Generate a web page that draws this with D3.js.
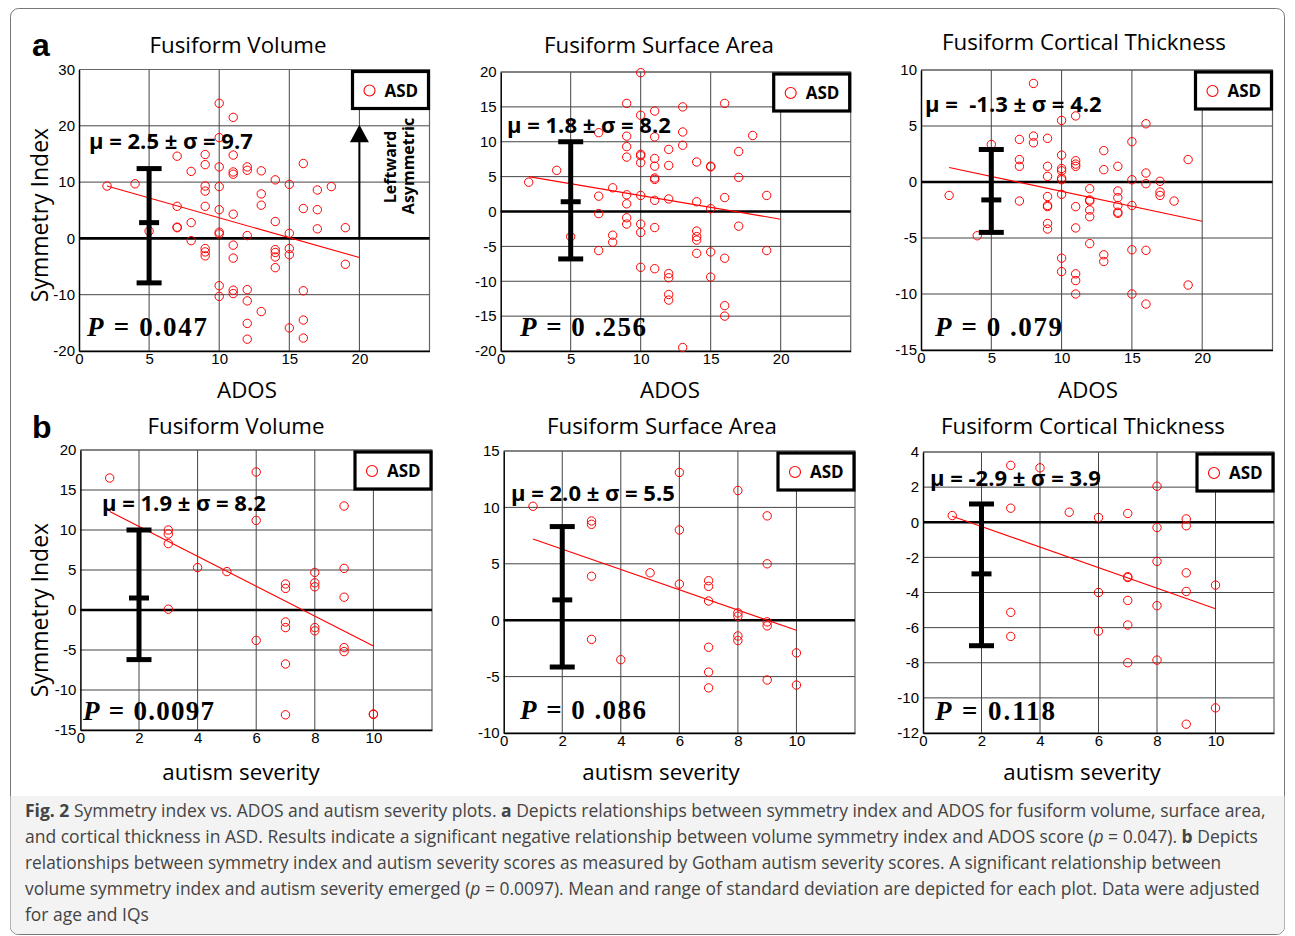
<!DOCTYPE html>
<html><head><meta charset="utf-8">
<script src="https://cdn.jsdelivr.net/npm/d3@7"></script>
<style>body{margin:0;background:#fff}svg{display:block}</style>
</head><body><svg id="c" width="1295" height="936"></svg>
<script>
// ---------- DATA ----------
const volAdosPts = [[2,9.3],[4,9.7],[5,1.3],[7,14.6],[7,5.7],[7,2.0],[7,1.9],[8,11.9],[8,2.8],[8,-0.4],
 [9,14.9],[9,13.1],[9,9.3],[9,8.4],[9,5.7],[9,-1.8],[9,-2.4],[9,-3.1],
 [10,24],[10,17.9],[10,12.7],[10,9.2],[10,5.1],[10,1.1],[10,0.8],[10,-8.4],[10,-10.3],
 [11,21.5],[11,14.8],[11,11.8],[11,11.4],[11,4.3],[11,-1.2],[11,-3.5],[11,-9.2],[11,-9.8],
 [12,12.7],[12,12.1],[12,0.5],[12,-9.1],[12,-11.1],[12,-15.1],[12,-17.9],
 [13,12.0],[13,7.9],[13,5.9],[13,-13],
 [14,10.4],[14,3.0],[14,-2.0],[14,-2.5],[14,-3.3],[14,-5.2],
 [15,9.6],[15,0.9],[15,-1.8],[15,-2.9],[15,-15.9],
 [16,13.3],[16,5.3],[16,-9.3],[16,-14.5],[16,-17.7],
 [17,8.6],[17,5.1],[17,1.7],[18,9.2],[19,1.9],[19,-4.6]];
const areaAdosPts = [[2,4.2],[4,5.9],[5,-3.6],[7,11.3],[7,2.2],[7,-0.3],[7,-5.6],[8,3.4],[8,-3.4],[8,-4.4],
 [9,15.5],[9,10.8],[9,9.3],[9,7.8],[9,2.4],[9,1.1],[9,-0.9],[9,-1.8],
 [10,19.9],[10,13.8],[10,8.2],[10,8.0],[10,7.0],[10,2.3],[10,-1.8],[10,-3.0],[10,-8.0],
 [11,14.4],[11,10.7],[11,7.6],[11,6.5],[11,4.8],[11,4.6],[11,1.6],[11,-2.3],[11,-8.2],
 [12,8.9],[12,6.6],[12,1.8],[12,-8.9],[12,-9.5],[12,-11.9],[12,-12.7],
 [13,15.0],[13,11.4],[13,9.5],[13,-19.5],
 [14,7.1],[14,1.4],[14,-2.8],[14,-3.6],[14,-4.1],[14,-6.0],
 [15,6.5],[15,6.4],[15,0.4],[15,-5.8],[15,-9.4],
 [16,15.5],[16,2.0],[16,-6.7],[16,-13.5],[16,-15.0],
 [17,8.6],[17,4.9],[17,-2.1],[18,10.9],[19,2.3],[19,-5.6]];
const thickAdosPts = [[2,-1.2],[4,-4.8],[5,3.35],[7,3.8],[7,2.0],[7,1.4],[7,-1.7],[8,8.8],[8,4.1],[8,3.5],
 [9,3.9],[9,1.4],[9,0.5],[9,-1.3],[9,-2.1],[9,-2.2],[9,-3.7],[9,-4.2],
 [10,5.5],[10,2.4],[10,1.2],[10,1.0],[10,0.35],[10,0.2],[10,-1.1],[10,-6.8],[10,-8.0],
 [11,5.9],[11,1.9],[11,1.6],[11,1.4],[11,-2.2],[11,-4.1],[11,-8.2],[11,-8.8],[11,-10],
 [12,-0.6],[12,-1.6],[12,-1.7],[12,-2.5],[12,-3.1],[12,-5.5],
 [13,2.8],[13,1.1],[13,-6.5],[13,-7.1],
 [14,1.4],[14,-0.8],[14,-1.4],[14,-2.1],[14,-2.7],[14,-2.8],
 [15,3.6],[15,0.2],[15,-2.1],[15,-6.05],[15,-10],
 [16,5.2],[16,0.8],[16,-0.15],[16,-6.1],[16,-10.9],
 [17,0.06],[17,-0.9],[17,-1.2],[18,-1.7],[19,2.0],[19,-9.2]];
const volSevPts = [[1,16.5],[3,10.0],[3,9.5],[3,8.3],[3,0.1],[4,5.3],[5,4.8],[6,17.25],[6,11.2],[6,-3.8],
 [7,3.25],[7,2.7],[7,-1.5],[7,-2.2],[7,-6.75],[7,-13.1],
 [8,4.7],[8,3.4],[8,2.9],[8,-2.2],[8,-2.6],
 [9,13.0],[9,5.2],[9,1.6],[9,-4.7],[9,-5.2],[10,-13.0],[10,-13.05]];
const areaSevPts = [[1,10.1],[3,8.8],[3,8.5],[3,3.9],[3,-1.7],[4,-3.5],[5,4.2],[6,13.1],[6,8.0],[6,3.2],
 [7,3.5],[7,3.0],[7,1.7],[7,-2.4],[7,-4.6],[7,-6.0],
 [8,11.5],[8,0.65],[8,0.35],[8,-1.4],[8,-1.8],
 [9,9.25],[9,5.0],[9,-0.15],[9,-0.5],[9,-5.3],[10,-2.9],[10,-5.75]];
const thickSevPts = [[1,0.38],[3,3.24],[3,0.8],[3,-5.13],[3,-6.5],[4,3.1],[5,0.57],[6,0.27],[6,-4.0],[6,-6.2],
 [7,0.5],[7,-3.1],[7,-3.15],[7,-4.45],[7,-5.85],[7,-8.0],
 [8,2.05],[8,-0.3],[8,-2.23],[8,-4.75],[8,-7.85],
 [9,0.19],[9,-0.2],[9,-2.88],[9,-3.94],[9,-11.5],[10,-3.58],[10,-10.57]];

// regression line end points [[x1,y1],[x2,y2]]
const fitLines = [
  [[2,9.3],[20,-3.4]],
  [[2,5.0],[20,-1.1]],
  [[2,1.3],[20,-3.5]],
  [[1,12.3],[10,-4.5]],
  [[1,7.2],[10,-0.9]],
  [[1,0.34],[10,-4.92]]
];
// error bars: [x, low, centre, high]
const errBars = [[5,-7.9,2.8,12.4],[5,-6.8,1.4,10.0],[5,-4.5,-1.6,2.9],
                 [2,-6.2,1.5,10.0],[2,-4.15,1.8,8.3],[2,-7.03,-2.94,1.04]];
const titles = ["Fusiform Volume","Fusiform Surface Area","Fusiform Cortical Thickness",
                "Fusiform Volume","Fusiform Surface Area","Fusiform Cortical Thickness"];
const statTexts = ["\u03bc = 2.5 \u00b1 \u03c3 = 9.7","\u03bc = 1.8 \u00b1 \u03c3 = 8.2","\u03bc =  -1.3 \u00b1 \u03c3 = 4.2",
                   "\u03bc = 1.9 \u00b1 \u03c3 = 8.2","\u03bc = 2.0 \u00b1 \u03c3 = 5.5","\u03bc = -2.9 \u00b1 \u03c3 = 3.9"];
const pValues = ["0.047","0 .256","0 .079","0.0097","0 .086","0.118"];
const xLabels = ["ADOS","ADOS","ADOS","autism severity","autism severity","autism severity"];
const xTicksAdos = [0,5,10,15,20];
const xTicksSev = [0,2,4,6,8,10];
const yTicksSets = [[-20,-10,0,10,20,30],[-20,-15,-10,-5,0,5,10,15,20],[-15,-10,-5,0,5,10],
                    [-15,-10,-5,0,5,10,15,20],[-10,-5,0,5,10,15],[-12,-10,-8,-6,-4,-2,0,2,4]];
const legendLabel = "ASD";

// ---------- LAYOUT ----------
const layout = [
 {pts:volAdosPts,  l:79,  r:429.5, t:69.5, b:351, xd:[0,25], yd:[-20,30], xt:xTicksAdos, tx:238, ty:53, lx:247, ly:398, sx:89, sy:149, px:87, py:336, pw:120},
 {pts:areaAdosPts, l:500.7,r:850.7,t:72,  b:351, xd:[0,25], yd:[-20,20], xt:xTicksAdos, tx:659, ty:53, lx:670, ly:398, sx:507, sy:133, px:520, py:336, pw:126},
 {pts:thickAdosPts,l:921, r:1272.5,t:70,  b:350, xd:[0,25], yd:[-15,10], xt:xTicksAdos, tx:1084,ty:50, lx:1088,ly:398, sx:925, sy:112, px:935, py:336, pw:127},
 {pts:volSevPts,   l:80.4,r:432,  t:450, b:730, xd:[0,12], yd:[-15,20], xt:xTicksSev, tx:236, ty:434, lx:241, ly:780, sx:102, sy:511, px:83,  py:720, pw:131},
 {pts:areaSevPts,  l:503.7,r:855, t:451, b:733, xd:[0,12], yd:[-10,15], xt:xTicksSev, tx:662, ty:434, lx:661, ly:780, sx:511, sy:501, px:520, py:719, pw:126},
 {pts:thickSevPts, l:923, r:1274, t:452, b:733, xd:[0,12], yd:[-12,4],  xt:xTicksSev, tx:1083,ty:434, lx:1082,ly:780, sx:930, sy:486, px:935, py:720, pw:120}
];

const svg = d3.select("#c");
// figure frame + caption background
svg.append("rect").attr("x",10.5).attr("y",8.5).attr("width",1274).attr("height",926).attr("rx",8)
  .attr("fill","#fff").attr("stroke","#777").attr("stroke-width",1);
svg.append("path").attr("d","M10.5,796 H1284.5 V926 a8,8 0 0 1 -8,8 H18.5 a8,8 0 0 1 -8,-8 Z")
  .attr("fill","#f3f3f3").attr("stroke","none");

const tickFont = "'Liberation Sans', Arial, sans-serif";
const labFont = "'Open Sans', sans-serif";

layout.forEach((c,i)=>{
  const x = d3.scaleLinear().domain(c.xd).range([c.l,c.r]);
  const y = d3.scaleLinear().domain(c.yd).range([c.b,c.t]);
  const g = svg.append("g");
  // grid
  g.append("g").selectAll("line").data(c.xt.filter(d=>d!==c.xd[0])).join("line")
    .attr("x1",d=>x(d)).attr("x2",d=>x(d)).attr("y1",c.t).attr("y2",c.b)
    .attr("stroke","#444").attr("stroke-width",1);
  g.append("g").selectAll("line").data(yTicksSets[i]).join("line")
    .attr("x1",c.l).attr("x2",c.r).attr("y1",d=>y(d)).attr("y2",d=>y(d))
    .attr("stroke","#444").attr("stroke-width",1);
  // box (top/right)
  g.append("path").attr("d",`M${c.l},${c.t}H${c.r}V${c.b}`).attr("fill","none").attr("stroke","#666").attr("stroke-width",1.2);
  // axes
  const ax = g.append("g").attr("transform",`translate(0,${c.b})`)
    .call(d3.axisBottom(x).tickValues(c.xt).tickSize(0).tickPadding(5).tickFormat(d3.format("d")));
  const ay = g.append("g").attr("transform",`translate(${c.l},0)`)
    .call(d3.axisLeft(y).tickValues(yTicksSets[i]).tickSize(0).tickPadding(4).tickFormat(d=>String(d)));
  [ax,ay].forEach(a=>{
    a.select(".domain").attr("stroke","#000").attr("stroke-width",1.5);
    a.selectAll("text").attr("font-family",tickFont).attr("font-size",15).attr("fill","#000");
  });
  ax.selectAll("text").attr("dy","0.5em");
  // zero line
  g.append("line").attr("x1",c.l).attr("x2",c.r).attr("y1",y(0)).attr("y2",y(0))
    .attr("stroke","#000").attr("stroke-width",2.6);
  // regression line
  g.append("path").datum(fitLines[i]).attr("d",d3.line().x(d=>x(d[0])).y(d=>y(d[1])))
    .attr("stroke","#ff0000").attr("stroke-width",1.1).attr("fill","none");
  // points
  g.append("g").selectAll("circle").data(c.pts).join("circle")
    .attr("cx",d=>x(d[0])).attr("cy",d=>y(d[1])).attr("r",4.2)
    .attr("fill","none").attr("stroke","#ff0000").attr("stroke-width",1);
  // error bar
  const e = errBars[i];
  const eb = g.append("g").attr("stroke","#000").attr("stroke-width",5);
  eb.append("line").attr("x1",x(e[0])).attr("x2",x(e[0])).attr("y1",y(e[1])).attr("y2",y(e[3]));
  eb.append("line").attr("x1",x(e[0])-12.5).attr("x2",x(e[0])+12.5).attr("y1",y(e[1])).attr("y2",y(e[1]));
  eb.append("line").attr("x1",x(e[0])-12.5).attr("x2",x(e[0])+12.5).attr("y1",y(e[3])).attr("y2",y(e[3]));
  eb.append("line").attr("x1",x(e[0])-10).attr("x2",x(e[0])+10).attr("y1",y(e[2])).attr("y2",y(e[2]));
  // legend
  const lg = g.append("g").attr("transform",`translate(${c.r-77},${c.t+2})`);
  lg.append("rect").attr("width",76).attr("height",37).attr("fill","#fff").attr("stroke","#000").attr("stroke-width",3.2);
  lg.append("circle").attr("cx",17).attr("cy",19).attr("r",5.5).attr("fill","none").attr("stroke","#ff0000").attr("stroke-width",1.1);
  lg.append("text").attr("x",32).attr("y",25).text(legendLabel)
    .attr("font-family",labFont).attr("font-weight",700).attr("font-size",17);
  // stats text
  g.append("text").attr("x",c.sx).attr("y",c.sy).text(statTexts[i]).style("white-space","pre")
    .attr("font-family",labFont).attr("font-weight",700).attr("font-size",22).attr("fill","#000");
  // p value
  const pt = g.append("text").attr("x",c.px).attr("y",c.py).style("white-space","pre")
    .attr("font-family","'Liberation Serif','DejaVu Serif',serif").attr("font-weight",700).attr("font-size",27)
    .attr("textLength",c.pw).attr("lengthAdjust","spacing");
  pt.append("tspan").attr("font-style","italic").text("P");
  pt.append("tspan").text(" = " + pValues[i]);
  // title
  g.append("text").attr("x",c.tx).attr("y",c.ty).attr("text-anchor","middle").text(titles[i])
    .attr("font-family",labFont).attr("font-size",22.3).attr("fill","#000");
  // x label
  g.append("text").attr("x",c.lx).attr("y",c.ly).attr("text-anchor","middle").text(xLabels[i])
    .attr("font-family",labFont).attr("font-size",22.3).attr("fill","#000");
  // arrow (first panel)
  if(i===0){
    const ag = g.append("g");
    ag.append("line").attr("x1",x(20)).attr("x2",x(20)).attr("y1",y(0)).attr("y2",y(17.2))
      .attr("stroke","#000").attr("stroke-width",2);
    ag.append("path").attr("d",`M${x(20)},${y(20.2)}L${x(20)-9.5},${y(17.1)}L${x(20)+9.5},${y(17.1)}Z`).attr("fill","#000");
    ag.append("text").attr("transform",`translate(396,167) rotate(-90)`).attr("text-anchor","middle")
      .text("Leftward").attr("font-family",labFont).attr("font-weight",700).attr("font-size",16);
    ag.append("text").attr("transform",`translate(414,166) rotate(-90)`).attr("text-anchor","middle")
      .text("Asymmetric").attr("font-family",labFont).attr("font-weight",700).attr("font-size",16);
  }
});

// y labels
[[48,215],[48,610]].forEach(p=>{
  svg.append("text").attr("transform",`translate(${p[0]},${p[1]}) rotate(-90)`).attr("text-anchor","middle")
    .text("Symmetry Index").attr("font-family",labFont).attr("font-size",23);
});
// panel letters
svg.append("text").attr("x",32).attr("y",56).text("a").attr("font-family",tickFont).attr("font-weight",700).attr("font-size",32);
svg.append("text").attr("x",32).attr("y",438).text("b").attr("font-family",tickFont).attr("font-weight",700).attr("font-size",32);

// caption
const capLines = [
 {w:1241, parts:[["Fig. 2","b"],[" Symmetry index vs. ADOS and autism severity plots. ",""],["a","b"],[" Depicts relationships between symmetry index and ADOS for fusiform volume, surface area,",""]]},
 {w:1233, parts:[["and cortical thickness in ASD. Results indicate a significant negative relationship between volume symmetry index and ADOS score (",""],["p","i"],[" = 0.047). ",""],["b","b"],[" Depicts",""]]},
 {w:1197, parts:[["relationships between symmetry index and autism severity scores as measured by Gotham autism severity scores. A significant relationship between",""]]},
 {w:1236, parts:[["volume symmetry index and autism severity emerged (",""],["p","i"],[" = 0.0097). Mean and range of standard deviation are depicted for each plot. Data were adjusted",""]]},
 {w:null, parts:[["for age and IQs",""]]}
];
let lastSize = 18;
capLines.forEach((ln,k)=>{
  const t = svg.append("text").attr("x",25).attr("y",817+k*26).style("white-space","pre")
    .attr("font-family",labFont).attr("font-size",18).attr("fill","#444");
  ln.parts.forEach(p=>{
    const s = t.append("tspan").text(p[0]);
    if(p[1]==="b") s.attr("font-weight",700);
    if(p[1]==="i") s.attr("font-style","italic");
  });
  if(ln.w){
    const m = t.node().getComputedTextLength();
    lastSize = 18*ln.w/m;
    t.attr("font-size",lastSize);
  } else t.attr("font-size",lastSize);
});
</script></body></html>
